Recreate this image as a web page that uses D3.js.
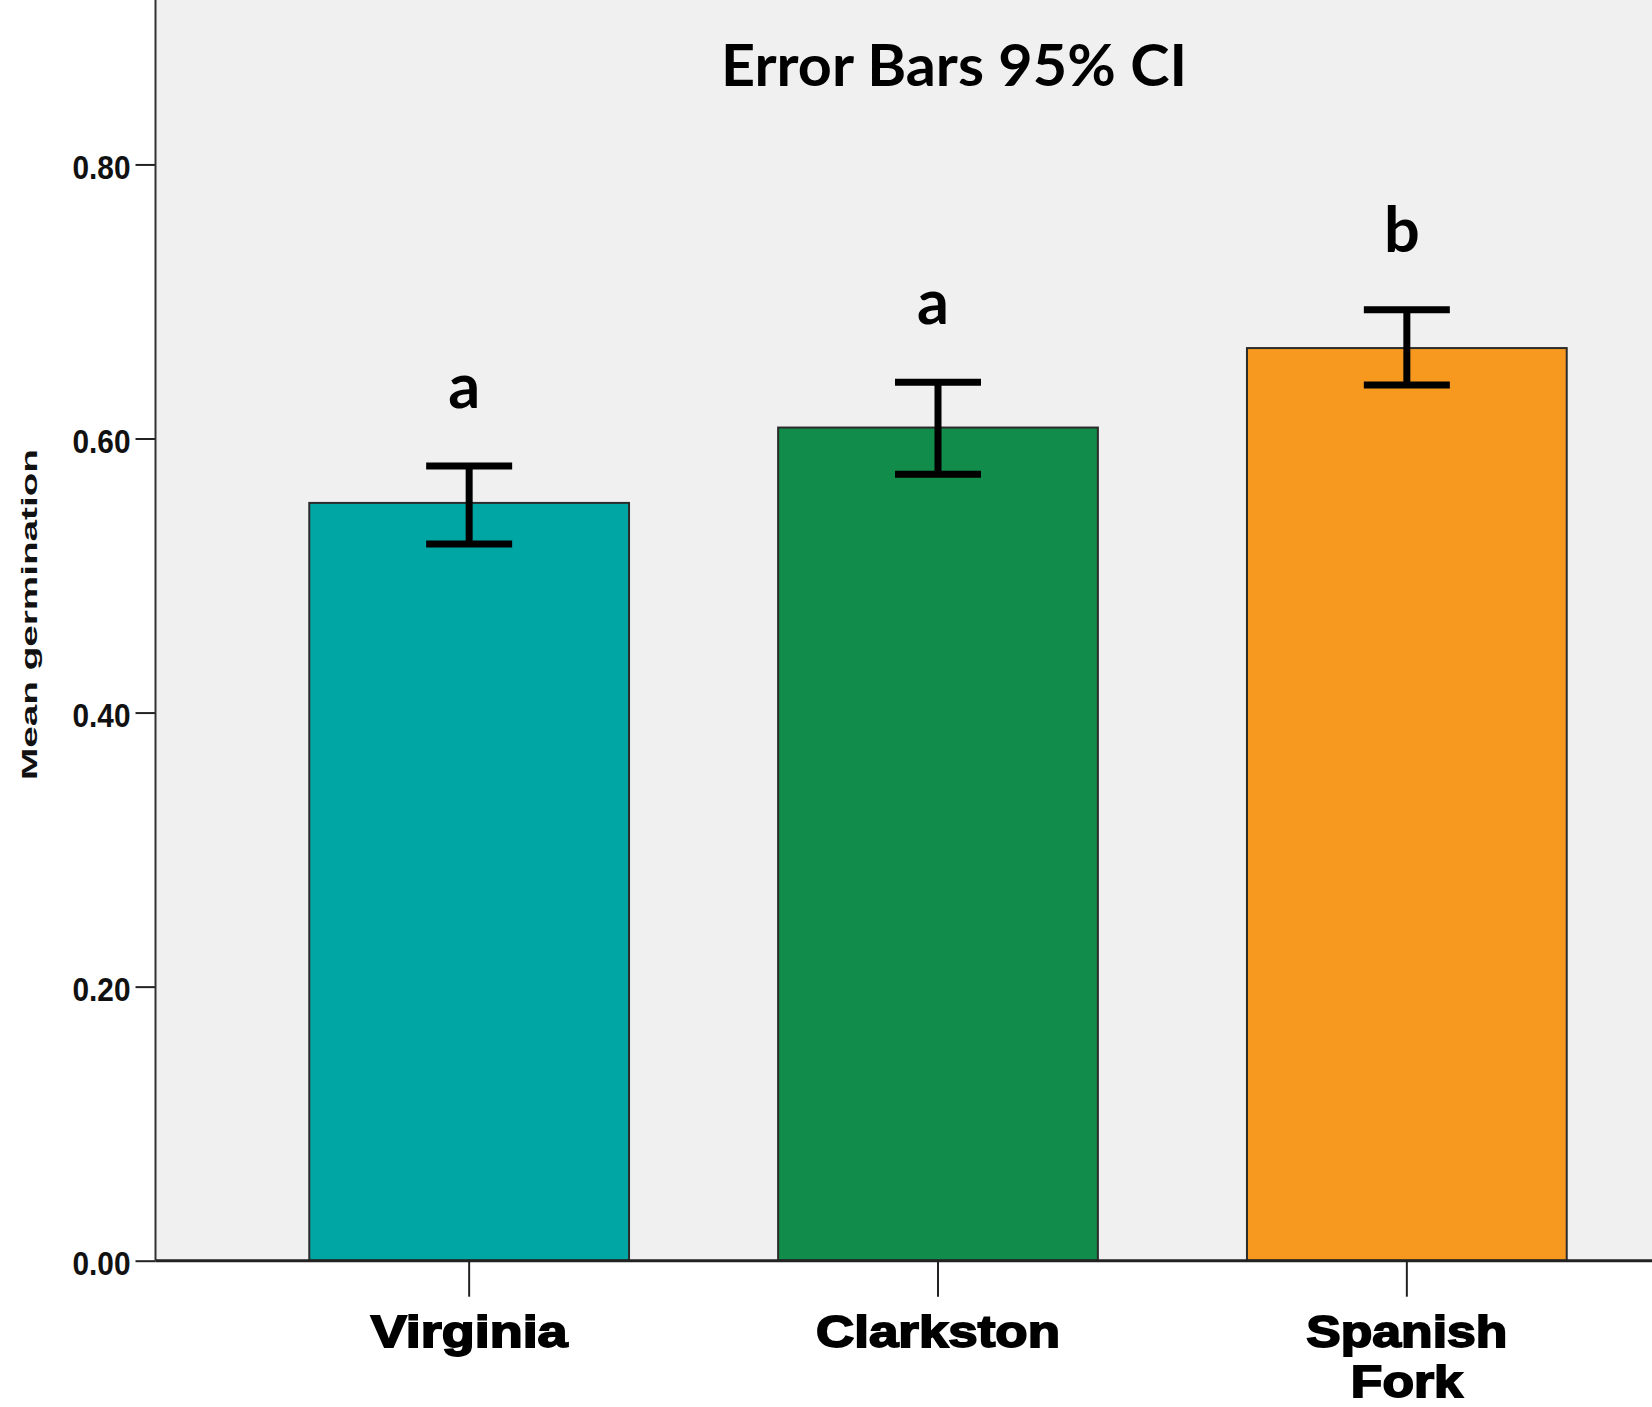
<!DOCTYPE html>
<html>
<head>
<meta charset="utf-8">
<script src="https://cdn.jsdelivr.net/npm/d3@7"></script>
<style>
  html, body { margin: 0; padding: 0; background: #ffffff; overflow: hidden; }
  svg { display: block; }
</style>
</head>
<body>
<svg id="chart" width="1652" height="1407"></svg>
<script>
// ---- data ----
const categories = ["Virginia", "Clarkston", "Spanish Fork"];
const means = [0.553, 0.608, 0.666];
const ciLow = [0.523, 0.574, 0.639];
const ciHigh = [0.580, 0.641, 0.694];
const letters = ["a", "a", "b"];
const barColors = ["#00a6a3", "#128c4a", "#f7991f"];
const yTicks = [0.0, 0.2, 0.4, 0.6, 0.8];
const titleText = "Error Bars 95% CI";
const yLabel = "Mean germination";

// ---- layout ----
const W = 1652, H = 1407;
const axisX = 155.5, axisY = 1260.7;
const svg = d3.select("#chart");

const y = d3.scaleLinear().domain([0, 0.92]).range([axisY, 0]);
const x = d3.scaleBand().domain(categories)
  .range([axisX, 1720.5]).paddingInner(0.318).paddingOuter(0.328);

// plot background
svg.append("rect").attr("x", axisX).attr("y", 0)
  .attr("width", W - axisX).attr("height", axisY).attr("fill", "#f0f0f0");

// bars
svg.append("g").selectAll("rect").data(categories).join("rect")
  .attr("x", d => x(d))
  .attr("y", (d, i) => y(means[i]))
  .attr("width", x.bandwidth())
  .attr("height", (d, i) => y(0) - y(means[i]))
  .attr("fill", (d, i) => barColors[i])
  .attr("stroke", "#2b2b2b")
  .attr("stroke-width", 2);

// error bars
const capHalf = 43;
const eg = svg.append("g").attr("stroke", "#000").attr("stroke-width", 7).attr("fill", "none");
categories.forEach((c, i) => {
  const cx = x(c) + x.bandwidth() / 2;
  eg.append("line").attr("x1", cx).attr("x2", cx).attr("y1", y(ciHigh[i])).attr("y2", y(ciLow[i]));
  eg.append("line").attr("x1", cx - capHalf).attr("x2", cx + capHalf).attr("y1", y(ciHigh[i])).attr("y2", y(ciHigh[i]));
  eg.append("line").attr("x1", cx - capHalf).attr("x2", cx + capHalf).attr("y1", y(ciLow[i])).attr("y2", y(ciLow[i]));
});

// significance letters
svg.append("g").selectAll("text").data(categories).join("text")
  .attr("x", d => x(d) + x.bandwidth() / 2 - 5)
  .attr("y", (d, i) => y(ciHigh[i]) - 58)
  .attr("text-anchor", "middle")
  .attr("font-family", "Lato, 'Open Sans', sans-serif")
  .attr("font-weight", 700)
  .attr("font-size", 63)
  .attr("fill", "#000")
  .text((d, i) => letters[i]);

// y axis
const yAxis = d3.axisLeft(y).tickValues(yTicks).tickFormat(d3.format(".2f")).tickSize(20).tickPadding(5);
const ya = svg.append("g").attr("transform", `translate(${axisX},0)`).call(yAxis);
ya.select(".domain").remove();
ya.selectAll(".tick line").attr("stroke", "#222").attr("stroke-width", 2);
ya.selectAll(".tick text")
  .attr("font-family", "'Liberation Sans', Arial, sans-serif")
  .attr("font-weight", 700)
  .attr("font-size", 34)
  .attr("fill", "#111")
  .attr("dy", "0.4em")
  .attr("textLength", 58)
  .attr("lengthAdjust", "spacingAndGlyphs");
svg.append("line").attr("x1", axisX).attr("x2", axisX).attr("y1", 0).attr("y2", axisY)
  .attr("stroke", "#333").attr("stroke-width", 2);

// x axis
const xAxis = d3.axisBottom(x).tickSize(36).tickFormat("");
const xa = svg.append("g").attr("transform", `translate(0,${axisY})`).call(xAxis);
xa.select(".domain").remove();
xa.selectAll(".tick line").attr("stroke", "#222").attr("stroke-width", 2);
svg.append("line").attr("x1", axisX).attr("x2", W).attr("y1", axisY).attr("y2", axisY)
  .attr("stroke", "#222").attr("stroke-width", 3);

// x category labels (wrapped into lines inside one text element)
const labelWidths = {"Virginia": [197], "Clarkston": [244], "Spanish Fork": [201, 112]};
categories.forEach(c => {
  const words = c === "Spanish Fork" ? ["Spanish", "Fork"] : [c];
  const cx = x(c) + x.bandwidth() / 2;
  const t = svg.append("text")
    .attr("x", cx)
    .attr("y", 1348)
    .attr("text-anchor", "middle")
    .attr("font-family", "'Liberation Sans', Arial, sans-serif")
    .attr("font-weight", 700)
    .attr("font-size", 45)
    .attr("fill", "#000")
    .attr("stroke", "#000")
    .attr("stroke-width", 1.8);
  words.forEach((w, j) => {
    t.append("tspan")
      .attr("x", cx)
      .attr("y", 1347 + j * 50)
      .attr("textLength", labelWidths[c][j])
      .attr("lengthAdjust", "spacingAndGlyphs")
      .text(w);
  });
});

// y axis title
svg.append("text")
  .attr("transform", "translate(37,614.5) rotate(-90)")
  .attr("text-anchor", "middle")
  .attr("font-family", "'Liberation Sans', Arial, sans-serif")
  .attr("font-weight", 700)
  .attr("font-size", 22)
  .attr("fill", "#111")
  .attr("textLength", 331)
  .attr("lengthAdjust", "spacingAndGlyphs")
  .text(yLabel);

// chart title
svg.append("text")
  .attr("x", 954)
  .attr("y", 85.7)
  .attr("text-anchor", "middle")
  .attr("font-family", "Lato, 'Open Sans', sans-serif")
  .attr("font-weight", 700)
  .attr("font-size", 57)
  .attr("fill", "#000")
  .attr("textLength", 466)
  .attr("lengthAdjust", "spacingAndGlyphs")
  .text(titleText);
</script>
</body>
</html>
